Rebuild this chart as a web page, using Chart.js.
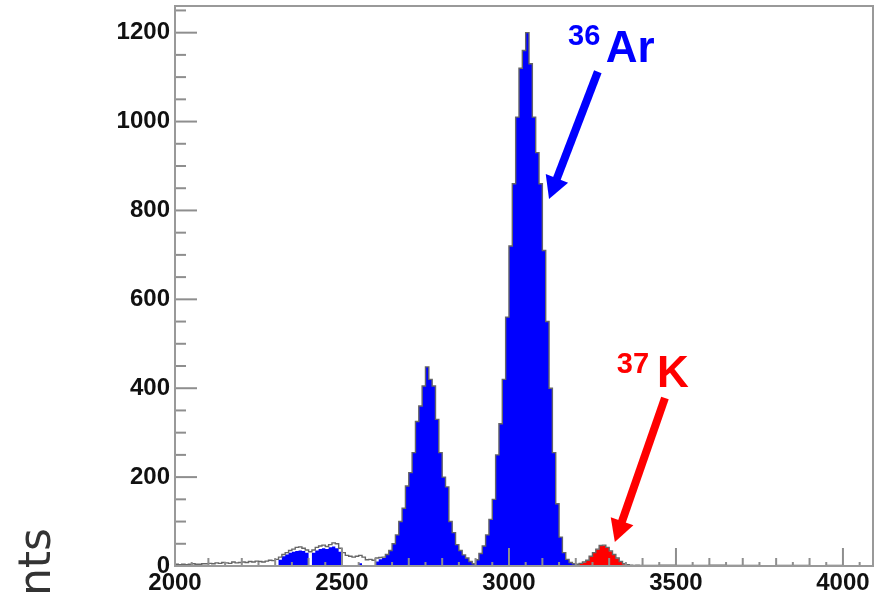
<!DOCTYPE html>
<html><head><meta charset="utf-8">
<script src="https://cdn.jsdelivr.net/npm/chart.js@4.4.0/dist/chart.umd.min.js"></script>
<style>html,body{margin:0;padding:0;background:#fff;}#wrap{width:884px;height:598px;}</style>
</head><body><div id="wrap"><canvas id="c" width="884" height="598"></canvas></div>
<script>
// ---- data (bin low edges, counts) ----
const binLow = [
2000,2010,2020,2030,2040,2050,2060,2070,2080,2090,
2100,2110,2120,2130,2140,2150,2160,2170,2180,2190,
2200,2210,2220,2230,2240,2250,2260,2270,2280,2290,
2300,2310,2320,2330,2340,2350,2360,2370,2380,2390,
2400,2410,2420,2430,2440,2450,2460,2470,2480,2490,
2500,2510,2520,2530,2540,2550,2560,2570,2580,2590,
2600,2610,2620,2630,2640,2650,2660,2670,2680,2690,
2700,2710,2720,2730,2740,2750,2760,2770,2780,2790,
2800,2810,2820,2830,2840,2850,2860,2870,2880,2890,
2900,2910,2920,2930,2940,2950,2960,2970,2980,2990,
3000,3010,3020,3030,3040,3050,3060,3070,3080,3090,
3100,3110,3120,3130,3140,3150,3160,3170,3180,3190,
3200,3210,3220,3230,3240,3250,3260,3270,3280,3290,
3300,3310,3320,3330,3340,3350,3360,3370,3380,3390,
3400,3450,3500,3550,3600,3650,3700,3750,3800,3850,3900,3950,4000,4050
];
const lastEdge = 4090;
const totalCounts = [
4,3,4,3,4,5,4,4,5,5,
6,5,7,6,8,7,6,9,7,8,
9,8,10,9,11,10,9,11,13,12,
15,20,26,30,35,38,42,43,40,36,
32,36,42,45,47,44,48,52,50,40,
30,24,22,20,22,24,20,14,15,13,
18,19,20,26,35,50,70,100,130,180,
210,255,325,360,405,448,420,405,330,255,
200,178,100,75,48,35,25,18,10,5,
14,28,45,70,105,150,250,320,420,560,
720,860,1010,1120,1160,1200,1130,1010,930,860,
710,550,400,255,140,65,30,15,8,5,
4,6,9,13,22,30,38,46,47,42,
34,26,18,10,5,3,2,1,2,1,
1,2,1,1,2,1,1,0,1,1,0,1,0,0
];
const arCounts = [
0,0,0,0,0,0,0,0,0,0,
0,0,0,0,0,0,0,0,0,0,
0,0,0,0,0,0,0,0,0,0,
0,14,22,26,30,32,34,35,34,30,
0,30,35,38,40,38,42,44,40,32,
0,0,0,0,0,6,0,0,0,0,
10,15,18,26,35,50,70,100,130,180,
210,255,325,360,405,448,420,405,330,255,
200,178,100,75,48,35,25,18,10,5,
14,28,45,70,105,150,250,320,420,560,
720,860,1010,1120,1160,1200,1130,1010,930,860,
710,550,400,255,140,65,30,15,8,5,
0,0,0,0,0,0,0,0,0,0,
0,0,0,0,0,0,0,0,0,0,
0,0,0,0,0,0,0,0,0,0,0,0,0,0
];
const kCounts = [
0,0,0,0,0,0,0,0,0,0,
0,0,0,0,0,0,0,0,0,0,
0,0,0,0,0,0,0,0,0,0,
0,0,0,0,0,0,0,0,0,0,
0,0,0,0,0,0,0,0,0,0,
0,0,0,0,0,0,0,0,0,0,
0,0,0,0,0,0,0,0,0,0,
0,0,0,0,0,0,0,0,0,0,
0,0,0,0,0,0,0,0,0,0,
0,0,0,0,0,0,0,0,0,0,
0,0,0,0,0,0,0,0,0,0,
0,0,0,0,0,0,0,0,0,0,
3,5,8,12,21,29,37,45,46,41,
33,25,17,9,4,0,0,0,0,0,
0,0,0,0,0,0,0,0,0,0,0,0,0,0
];
const xTickLabels = [2000, 2500, 3000, 3500, 4000];
const yTickLabels = [0, 200, 400, 600, 800, 1000, 1200];
const yAxisTitle = 'Counts';
// annotation anchors in data units
const arNote = { mass: '36', symbol: 'Ar', massAt: [3177, 1173], symAt: [3290, 1135], from: [3266, 1112], to: [3120, 826], color: '#0000FF' };
const kNote  = { mass: '37', symbol: 'K',  massAt: [3323, 434],  symAt: [3443, 403],  from: [3467, 378],  to: [3317, 54],  color: '#FF0000' };

function steps(counts) {
  const pts = binLow.map((x, i) => ({ x: x, y: counts[i] }));
  pts.push({ x: lastEdge, y: counts[counts.length - 1] });
  return pts;
}

function drawArrow(ctx, x1, y1, x2, y2, w, hl, hw, color) {
  const dx = x2 - x1, dy = y2 - y1, L = Math.hypot(dx, dy);
  const ux = dx / L, uy = dy / L, nx = -uy, ny = ux;
  const bx = x2 - ux * hl, by = y2 - uy * hl;
  ctx.strokeStyle = color; ctx.lineWidth = w; ctx.lineCap = 'butt';
  ctx.beginPath(); ctx.moveTo(x1, y1); ctx.lineTo(bx + ux * 2, by + uy * 2); ctx.stroke();
  ctx.fillStyle = color;
  ctx.beginPath(); ctx.moveTo(x2, y2);
  ctx.lineTo(bx + nx * hw, by + ny * hw); ctx.lineTo(bx - nx * hw, by - ny * hw);
  ctx.closePath(); ctx.fill();
}

function zeroPad(s) { s.paddingTop = 0; s.paddingBottom = 0; s.paddingLeft = 0; s.paddingRight = 0; }

const framePlugin = {
  id: 'frame',
  afterDatasetsDraw(chart) {
    const { ctx, chartArea: a, scales: { x, y } } = chart;
    ctx.save();
    ctx.strokeStyle = '#8e8e8e'; ctx.lineWidth = 2;
    for (let v = 2000; v <= 4090; v += 50) {
      const px = x.getPixelForValue(v);
      const len = v % 500 === 0 ? 18 : (v % 100 === 0 ? 8 : 4);
      ctx.beginPath(); ctx.moveTo(px, a.bottom); ctx.lineTo(px, a.bottom - len); ctx.stroke();
    }
    for (let v = 0; v <= 1260; v += 50) {
      const py = y.getPixelForValue(v);
      const len = v % 200 === 0 ? 22 : 11;
      ctx.beginPath(); ctx.moveTo(a.left, py); ctx.lineTo(a.left + len, py); ctx.stroke();
    }
    ctx.strokeStyle = '#999'; ctx.lineWidth = 2;
    ctx.beginPath();
    ctx.moveTo(a.left, a.top); ctx.lineTo(a.right, a.top); ctx.lineTo(a.right, a.bottom);
    ctx.lineTo(a.left, a.bottom); ctx.closePath(); ctx.stroke();
    ctx.restore();
  },
  afterDraw(chart) {
    const { ctx, scales: { x, y } } = chart;
    ctx.save();
    [arNote, kNote].forEach(n => {
      ctx.fillStyle = n.color; ctx.textBaseline = 'alphabetic'; ctx.textAlign = 'left';
      ctx.font = 'bold 29px "Liberation Sans", Arial, sans-serif';
      ctx.fillText(n.mass, x.getPixelForValue(n.massAt[0]), y.getPixelForValue(n.massAt[1]));
      ctx.font = 'bold 44px "Liberation Sans", Arial, sans-serif';
      ctx.fillText(n.symbol, x.getPixelForValue(n.symAt[0]), y.getPixelForValue(n.symAt[1]));
      drawArrow(ctx, x.getPixelForValue(n.from[0]), y.getPixelForValue(n.from[1]),
        x.getPixelForValue(n.to[0]), y.getPixelForValue(n.to[1]), 8, 22, 12, n.color);
    });
    ctx.translate(50, 528); ctx.rotate(-Math.PI / 2);
    ctx.fillStyle = '#333'; ctx.textAlign = 'right'; ctx.textBaseline = 'alphabetic';
    ctx.font = '44px "DejaVu Sans", sans-serif';
    ctx.fillText(yAxisTitle, 0, 0);
    ctx.restore();
  }
};

Chart.defaults.font.family = '"Liberation Sans", Arial, sans-serif';
new Chart(document.getElementById('c'), {
  type: 'line',
  data: {
    datasets: [
      { data: steps(totalCounts), stepped: true, borderColor: '#666', borderWidth: 1.4, pointRadius: 0, fill: false },
      { data: steps(arCounts), stepped: true, borderWidth: 0, borderColor: 'rgba(0,0,0,0)', backgroundColor: '#0000FF', pointRadius: 0, fill: 'origin' },
      { data: steps(kCounts), stepped: true, borderWidth: 0, borderColor: 'rgba(0,0,0,0)', backgroundColor: '#FF0000', pointRadius: 0, fill: 'origin' }
    ]
  },
  options: {
    responsive: false, animation: false, devicePixelRatio: 1,
    layout: { padding: { top: 6, right: 11, left: 0, bottom: 0 } },
    plugins: { legend: { display: false }, tooltip: { enabled: false } },
    scales: {
      x: {
        type: 'linear', min: 2000, max: 4090,
        afterBuildTicks: s => { s.ticks = xTickLabels.map(v => ({ value: v })); },
        afterFit: s => { s.height = 32; zeroPad(s); },
        grid: { display: false, drawTicks: false }, border: { display: false },
        ticks: { autoSkip: false, maxRotation: 0, padding: 3, color: '#111', font: { size: 24, weight: 'bold' }, callback: v => String(v) }
      },
      y: {
        type: 'linear', min: 0, max: 1260,
        afterBuildTicks: s => { s.ticks = yTickLabels.map(v => ({ value: v })); },
        afterFit: s => { s.width = 175; zeroPad(s); },
        grid: { display: false, drawTicks: false }, border: { display: false },
        ticks: { padding: 5, color: '#111', font: { size: 24, weight: 'bold' }, callback: v => String(v) }
      }
    }
  },
  plugins: [framePlugin]
});
</script></body></html>
